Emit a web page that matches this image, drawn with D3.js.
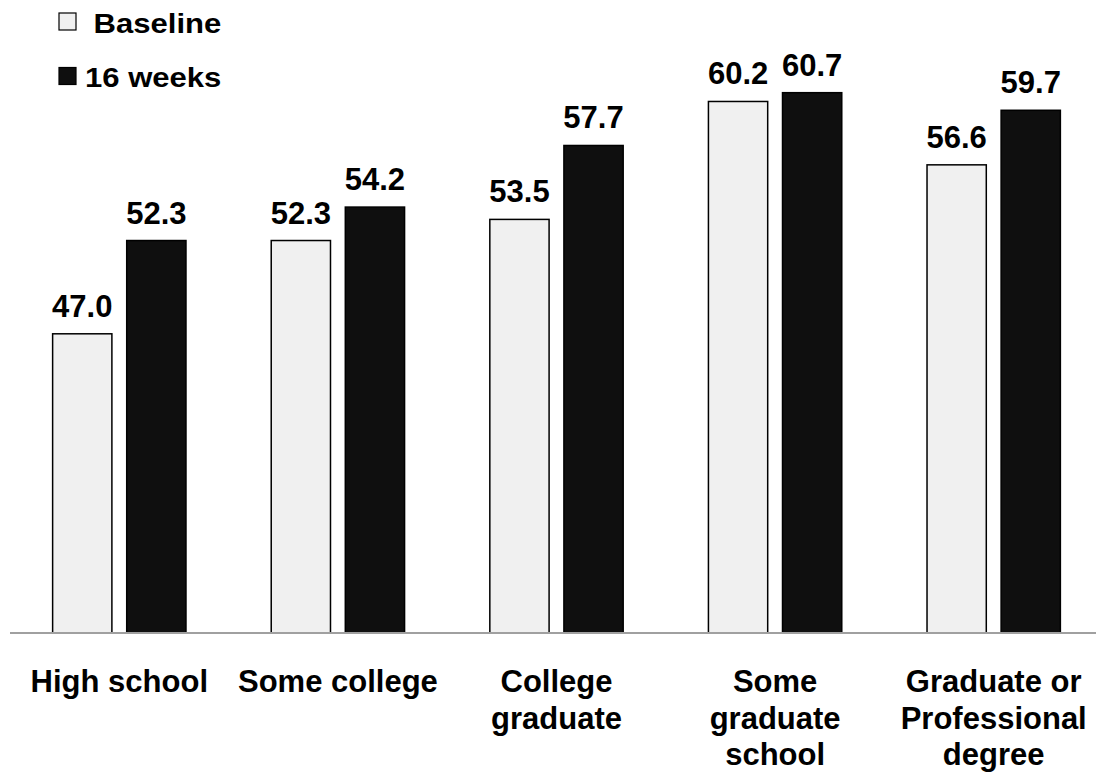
<!DOCTYPE html>
<html>
<head>
<meta charset="utf-8">
<script src="https://cdn.jsdelivr.net/npm/d3@7"></script>
<style>
  body { margin: 0; background: #fff; }
  text { font-family: "Liberation Sans", Arial, sans-serif; font-weight: bold; fill: #000; }
</style>
</head>
<body>
<script>
// categories (each entry is one label, split into lines)
const categories = [
    ["High school"],
    ["Some college"],
    ["College", "graduate"],
    ["Some", "graduate", "school"],
    ["Graduate or", "Professional", "degree"]
];
const seriesNames = ["Baseline", "16 weeks"];
const baselineValues = [47.0, 52.3, 53.5, 60.2, 56.6];
const weekValues = [52.3, 54.2, 57.7, 60.7, 59.7];
const seriesColors = ["#f0f0f0", "#0f0f0f"];

const w = 1096, h = 774;
const axisY = 633;

const svg = d3.select("body").append("svg")
    .attr("width", w)
    .attr("height", h);

// rows for drawing
const rows = categories.map((c, i) => ({
    key: c.join(" "),
    lines: c,
    values: [baselineValues[i], weekValues[i]]
}));

// x scale for groups
const xScale = d3.scaleBand()
    .domain(rows.map(d => d.key))
    .range([10, 1103])
    .paddingInner(0.39)
    .paddingOuter(0.195);

// x scale inside a group
const xSub = d3.scaleBand()
    .domain(seriesNames)
    .range([0, xScale.bandwidth()])
    .paddingInner(0.2);

// y scale, not starting at zero
const yScale = d3.scaleLinear()
    .domain([30, 65])
    .range([axisY, 17]);

// groups
const groups = svg.selectAll(".group")
    .data(rows)
    .enter()
    .append("g")
    .attr("class", "group")
    .attr("transform", d => `translate(${xScale(d.key)},0)`);

const bars = groups.selectAll("g.bar")
    .data(d => d.values.map((v, j) => ({ name: seriesNames[j], value: v, j: j })))
    .enter()
    .append("g")
    .attr("class", "bar");

bars.append("rect")
    .attr("x", d => xSub(d.name))
    .attr("y", d => yScale(d.value))
    .attr("width", xSub.bandwidth())
    .attr("height", d => axisY - yScale(d.value))
    .attr("fill", d => seriesColors[d.j])
    .attr("stroke", "#000")
    .attr("stroke-width", 1.5);

// value labels
bars.append("text")
    .attr("x", d => xSub(d.name) + xSub.bandwidth() / 2)
    .attr("y", d => yScale(d.value) - 17)
    .attr("text-anchor", "middle")
    .style("font-size", "31px")
    .text(d => d.value.toFixed(1));

// x axis line
svg.append("line")
    .attr("x1", 10)
    .attr("x2", w)
    .attr("y1", axisY)
    .attr("y2", axisY)
    .attr("stroke", "#a0a0a0")
    .attr("stroke-width", 2);

// category labels
const catText = svg.selectAll(".cat")
    .data(rows)
    .enter()
    .append("text")
    .attr("class", "cat")
    .attr("text-anchor", "middle")
    .attr("transform", d => `translate(${xScale(d.key) + xScale.bandwidth() / 2},${axisY + 59})`)
    .style("font-size", "31px");

catText.selectAll("tspan")
    .data(d => d.lines)
    .enter()
    .append("tspan")
    .attr("x", 0)
    .attr("y", (d, i) => i * 36.7)
    .text(d => d);

// legend
const legend = svg.append("g")
    .attr("transform", "translate(59,13)");

const item = legend.selectAll(".item")
    .data(seriesNames)
    .enter()
    .append("g")
    .attr("class", "item")
    .attr("transform", (d, i) => `translate(0,${i * 54.5})`);

item.append("rect")
    .attr("width", 17)
    .attr("height", 17)
    .attr("fill", (d, i) => seriesColors[i])
    .attr("stroke", "#000")
    .attr("stroke-width", 1.2);

item.append("text")
    .attr("transform", "translate(26,19.7) scale(1.15,1)")
    .style("font-size", "27px")
    .style("white-space", "pre")
    .text(d => d === "Baseline" ? " " + d : d);
</script>
</body>
</html>
